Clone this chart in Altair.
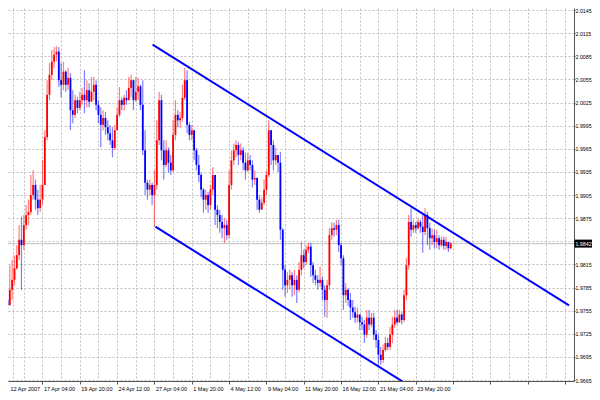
import altair as alt
import pandas as pd

# ---- data (H4 candles) ----
first_open = 1.9756
closes = [
    1.9769, 1.9762, 1.9782, 1.9795, 1.9810, 1.9827, 1.9847, 1.9840, 1.9866, 1.9879,
    1.9883, 1.9905, 1.9918, 1.9899, 1.9888, 1.9899, 1.9918, 1.9980, 2.0035, 2.0061,
    2.0078, 2.0087, 2.0091, 2.0054, 2.0048, 2.0065, 2.0048, 2.0057, 2.0015, 2.0009,
    2.0028, 2.0018, 2.0028, 2.0035, 2.0028, 2.0041, 2.0026, 2.0039, 2.0048, 2.0022,
    2.0009, 1.9996, 2.0005, 1.9993, 1.9985, 1.9976, 1.9966, 1.9989, 2.0009, 2.0028,
    2.0022, 2.0031, 2.0028, 2.0044, 2.0054, 2.0028, 2.0039, 2.0046, 2.0022, 1.9963,
    1.9921, 1.9912, 1.9918, 1.9905, 1.9918, 1.9976, 2.0028, 1.9963, 1.9944, 1.9963,
    1.9947, 1.9937, 1.9983, 2.0009, 2.0002, 2.0005, 2.0031, 2.0054, 1.9996, 1.9983,
    1.9989, 1.9963, 1.9944, 1.9931, 1.9912, 1.9899, 1.9905, 1.9892, 1.9912, 1.9931,
    1.9886, 1.9879, 1.9870, 1.9862, 1.9866, 1.9853, 1.9918, 1.9950, 1.9963, 1.9970,
    1.9957, 1.9963, 1.9947, 1.9937, 1.9950, 1.9944, 1.9925, 1.9927, 1.9899, 1.9886,
    1.9895, 1.9912, 1.9931, 1.9989, 1.9970, 1.9950, 1.9957, 1.9947, 1.9860, 1.9808,
    1.9788, 1.9795, 1.9801, 1.9788, 1.9795, 1.9782, 1.9808, 1.9827, 1.9818, 1.9834,
    1.9838, 1.9814, 1.9801, 1.9795, 1.9791, 1.9795, 1.9782, 1.9769, 1.9788, 1.9853,
    1.9862, 1.9860, 1.9866, 1.9840, 1.9823, 1.9775, 1.9782, 1.9769, 1.9759, 1.9753,
    1.9746, 1.9750, 1.9740, 1.9737, 1.9724, 1.9746, 1.9737, 1.9746, 1.9724, 1.9717,
    1.9698, 1.9691, 1.9704, 1.9713, 1.9708, 1.9724, 1.9737, 1.9746, 1.9740, 1.9750,
    1.9743, 1.9775, 1.9814, 1.9870, 1.9860, 1.9866, 1.9862, 1.9870, 1.9864, 1.9857,
    1.9879, 1.9862, 1.9849, 1.9853, 1.9844, 1.9849, 1.9840, 1.9847, 1.9839, 1.9844,
    1.9836, 1.9842,
]
highs = [
    1.9782, 1.9788, 1.9814, 1.9821, 1.9827, 1.9840, 1.9866, 1.9877, 1.9879, 1.9892,
    1.9899, 1.9931, 1.9937, 1.9925, 1.9912, 1.9918, 1.9950, 1.9989, 2.0054, 2.0076,
    2.0093, 2.0097, 2.0098, 2.0097, 2.0076, 2.0078, 2.0067, 2.0070, 2.0063, 2.0041,
    2.0035, 2.0032, 2.0039, 2.0044, 2.0067, 2.0054, 2.0050, 2.0058, 2.0058, 2.0054,
    2.0028, 2.0019, 2.0015, 2.0013, 2.0002, 1.9996, 1.9993, 1.9996, 2.0019, 2.0045,
    2.0032, 2.0035, 2.0041, 2.0058, 2.0061, 2.0054, 2.0058, 2.0057, 2.0048, 2.0054,
    1.9989, 1.9925, 1.9925, 1.9921, 1.9937, 2.0002, 2.0039, 2.0035, 1.9976, 1.9976,
    1.9967, 1.9957, 2.0002, 2.0028, 2.0015, 2.0013, 2.0048, 2.0070, 2.0067, 2.0000,
    1.9996, 1.9989, 1.9966, 1.9957, 1.9934, 1.9914, 1.9912, 1.9909, 1.9918, 1.9941,
    1.9931, 1.9892, 1.9886, 1.9879, 1.9875, 1.9873, 1.9937, 1.9963, 1.9972, 1.9976,
    1.9974, 1.9972, 1.9967, 1.9960, 1.9960, 1.9957, 1.9950, 1.9937, 1.9928, 1.9905,
    1.9902, 1.9925, 1.9937, 2.0002, 1.9989, 1.9976, 1.9966, 1.9957, 1.9961, 1.9862,
    1.9814, 1.9805, 1.9808, 1.9805, 1.9808, 1.9801, 1.9818, 1.9844, 1.9834, 1.9840,
    1.9843, 1.9843, 1.9818, 1.9808, 1.9801, 1.9812, 1.9799, 1.9788, 1.9795, 1.9862,
    1.9870, 1.9869, 1.9873, 1.9873, 1.9843, 1.9827, 1.9791, 1.9784, 1.9778, 1.9769,
    1.9760, 1.9759, 1.9750, 1.9747, 1.9743, 1.9756, 1.9756, 1.9752, 1.9752, 1.9730,
    1.9724, 1.9708, 1.9711, 1.9721, 1.9720, 1.9734, 1.9747, 1.9756, 1.9756, 1.9756,
    1.9753, 1.9782, 1.9823, 1.9879, 1.9888, 1.9873, 1.9870, 1.9875, 1.9873, 1.9879,
    1.9888, 1.9883, 1.9869, 1.9862, 1.9860, 1.9860, 1.9853, 1.9851, 1.9851, 1.9851,
    1.9844, 1.9844,
]
lows = [
    1.9750, 1.9753, 1.9773, 1.9769, 1.9788, 1.9808, 1.9821, 1.9782, 1.9834, 1.9860,
    1.9866, 1.9879, 1.9899, 1.9886, 1.9879, 1.9883, 1.9892, 1.9918, 1.9976, 2.0028,
    2.0054, 2.0070, 2.0078, 2.0045, 2.0032, 2.0041, 2.0039, 2.0041, 1.9989, 1.9998,
    2.0005, 2.0011, 2.0015, 2.0022, 2.0011, 2.0019, 2.0019, 2.0028, 2.0028, 2.0015,
    1.9998, 1.9967, 1.9989, 1.9983, 1.9976, 1.9970, 1.9954, 1.9963, 1.9989, 2.0006,
    2.0015, 2.0015, 2.0022, 2.0028, 2.0032, 2.0015, 2.0026, 2.0028, 2.0015, 1.9957,
    1.9905, 1.9899, 1.9905, 1.9892, 1.9864, 1.9912, 1.9970, 1.9950, 1.9925, 1.9941,
    1.9934, 1.9931, 1.9935, 1.9976, 1.9993, 1.9992, 2.0000, 2.0028, 1.9985, 1.9976,
    1.9976, 1.9950, 1.9937, 1.9922, 1.9902, 1.9882, 1.9886, 1.9882, 1.9886, 1.9905,
    1.9866, 1.9862, 1.9856, 1.9849, 1.9843, 1.9847, 1.9849, 1.9912, 1.9944, 1.9954,
    1.9944, 1.9950, 1.9937, 1.9925, 1.9935, 1.9937, 1.9915, 1.9918, 1.9886, 1.9882,
    1.9886, 1.9892, 1.9905, 1.9928, 1.9944, 1.9937, 1.9944, 1.9935, 1.9847, 1.9782,
    1.9773, 1.9778, 1.9782, 1.9773, 1.9775, 1.9765, 1.9779, 1.9801, 1.9810, 1.9814,
    1.9830, 1.9799, 1.9791, 1.9788, 1.9782, 1.9786, 1.9769, 1.9747, 1.9746, 1.9782,
    1.9847, 1.9851, 1.9853, 1.9831, 1.9814, 1.9756, 1.9765, 1.9761, 1.9743, 1.9746,
    1.9739, 1.9740, 1.9730, 1.9730, 1.9713, 1.9720, 1.9730, 1.9734, 1.9717, 1.9707,
    1.9682, 1.9685, 1.9687, 1.9702, 1.9704, 1.9704, 1.9713, 1.9733, 1.9737, 1.9739,
    1.9737, 1.9740, 1.9769, 1.9808, 1.9851, 1.9856, 1.9856, 1.9860, 1.9856, 1.9830,
    1.9853, 1.9840, 1.9834, 1.9840, 1.9836, 1.9836, 1.9834, 1.9838, 1.9834, 1.9834,
    1.9831, 1.9834,
]

time_labels = ["12 Apr 2007", "17 Apr 04:00", "19 Apr 20:00", "24 Apr 12:00",
               "27 Apr 04:00", "1 May 20:00", "4 May 12:00", "9 May 04:00",
               "11 May 20:00", "16 May 12:00", "21 May 04:00", "23 May 20:00"]
price_ticks = [1.9665, 1.9695, 1.9725, 1.9755, 1.9785, 1.9815, 1.9845, 1.9875,
               1.9905, 1.9935, 1.9965, 1.9995, 2.0025, 2.0055, 2.0085, 2.0115, 2.0145]

# channel (trend lines): anchor bars and prices
upper_bars = [63.2, 241.7]
upper_prices = [2.0100, 1.9762]
lower_bars = [64.4, 172.0]
lower_prices = [1.9864, 1.9660]

# ---- build tables ----
opens = [first_open] + closes[:-1]
rows = []
for i, (o, h, l, c) in enumerate(zip(opens, highs, lows, closes)):
    rows.append(dict(bar=i, open=o, close=c, high=max(h, o, c), low=min(l, o, c),
                     dir="up" if c >= o else "down"))
df = pd.DataFrame(rows)

chan = pd.DataFrame(
    [dict(line="upper", bar=b, price=p) for b, p in zip(upper_bars, upper_prices)]
    + [dict(line="lower", bar=b, price=p) for b, p in zip(lower_bars, lower_prices)]
)
last_price = closes[-1]
last = pd.DataFrame({"price": [last_price]})

X0, X1 = 3.37, 241.7
Y0, Y1 = 1.96638, 2.01476
FONT = "Liberation Sans"
FSX = 5.5
FSY = 5.3

label_arr = []
for k in range(0, 32):
    if k % 2 == 0 and k // 2 < len(time_labels):
        label_arr.append(time_labels[k // 2])
    else:
        label_arr.append("")
label_expr = "[" + ",".join("'%s'" % s for s in label_arr) + "][round(datum.value/8)] || ''"
# the regular price label hidden under the current-price box
y_label_expr = "abs(datum.value - %s) < 0.0006 ? '' : format(datum.value, '.4f')" % last_price

xscale = alt.Scale(domain=[X0, X1], nice=False, zero=False)
yscale = alt.Scale(domain=[Y0, Y1], nice=False, zero=False)

xaxis = alt.Axis(
    values=[X0] + list(range(8, 241, 8)), labelExpr=label_expr,
    grid=True, gridColor="#c0c0c0", gridDash=[2, 2], gridWidth=1,
    domainColor="#555555", domainWidth=1, tickColor="#555555", tickSize=3,
    tickOpacity={"condition": {"test": "datum.value % 16 === 0", "value": 1}, "value": 0},
    labelAlign="left", labelBaseline="top", labelPadding=2,
    labelOffset={"condition": {"test": "datum.value < 8", "value": -3}, "value": 1},
    labelFont=FONT, labelFontSize=FSX, labelColor="#000000",
    labelOverlap=False, labelFlush=False, title=None,
)
yaxis = alt.Axis(
    orient="right", values=price_ticks, labelExpr=y_label_expr,
    grid=True, gridColor="#c0c0c0", gridDash=[2, 2], gridWidth=1,
    domainColor="#555555", domainWidth=1, tickColor="#555555", tickSize=1,
    labelPadding=0, labelFont=FONT, labelFontSize=FSY, labelColor="#000000",
    labelBaseline="middle", labelOverlap=False, labelFlush=False, title=None,
)

X = lambda f: alt.X(f, scale=xscale, axis=xaxis)
Y = lambda f: alt.Y(f, scale=yscale, axis=yaxis)
color = alt.Color("dir:N", scale=alt.Scale(domain=["up", "down"], range=["#ff0000", "#0000ff"]), legend=None)

price_rule = alt.Chart(last).mark_rule(color="#c0c0c0", strokeWidth=1).encode(y=Y("price:Q"))

wicks = alt.Chart(df).mark_rule(strokeWidth=1.2, opacity=0.5, clip=True).encode(
    x=X("bar:Q"), y=Y("low:Q"), y2="high:Q", color=color)

bodies = alt.Chart(df).mark_bar(size=1.8, clip=True).encode(
    x=X("bar:Q"), y=Y("open:Q"), y2="close:Q", color=color)

channel = alt.Chart(chan).mark_line(color="#0000ff", strokeWidth=2, clip=True).encode(
    x=X("bar:Q"), y=Y("price:Q"), detail="line:N")

box = alt.Chart(last).mark_tick(orient="horizontal", color="#000000", size=18, thickness=8, opacity=1).encode(
    x=alt.value(575.5), y=Y("price:Q"))
box_text = alt.Chart(last).mark_text(color="#ffffff", font=FONT, fontSize=FSY, align="center",
                                     baseline="middle").encode(
    x=alt.value(575.5), y=Y("price:Q"), text=alt.Text("price:Q", format=".4f"))

chart = alt.layer(price_rule, wicks, bodies, channel, box, box_text).properties(
    width=566, height=373,
    autosize=alt.AutoSizeParams(type="none"),
    padding={"left": 0, "top": 0, "right": 18, "bottom": 11},
    background="#ffffff",
).configure_view(stroke=None)

chart.save("out.html", embed_options={"renderer": "svg", "actions": False})
